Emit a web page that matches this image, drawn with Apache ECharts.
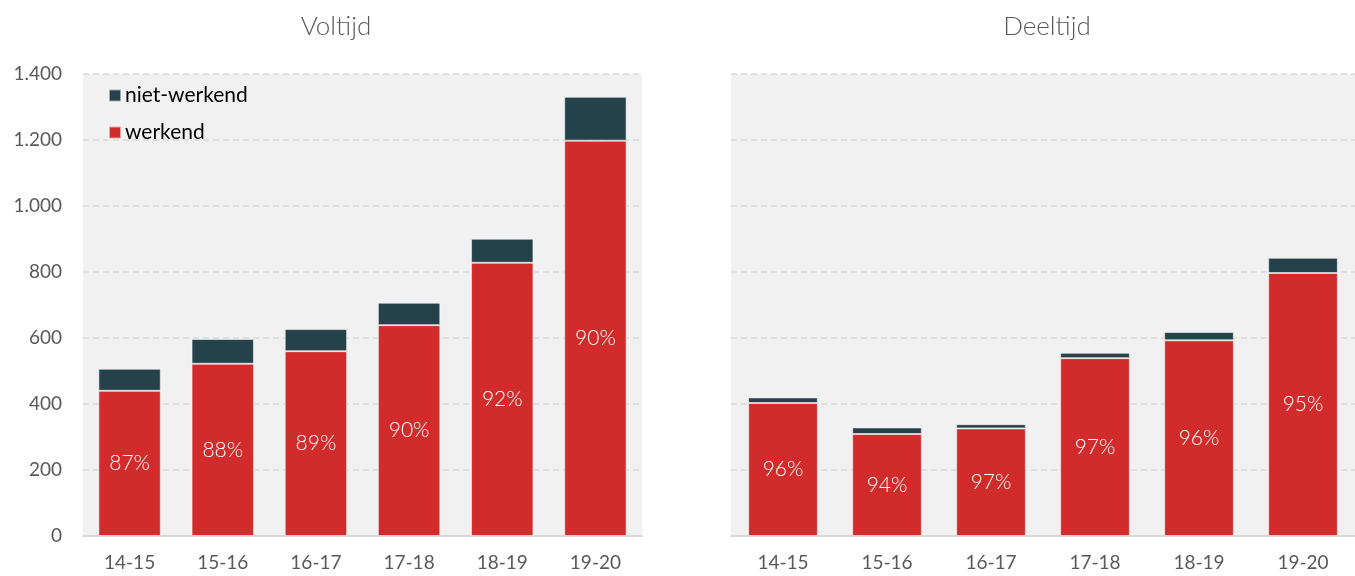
<!DOCTYPE html>
<html>
<head>
<meta charset="utf-8">
<script src="https://cdn.jsdelivr.net/npm/echarts@6/dist/echarts.min.js"></script>
<style>
html,body{margin:0;padding:0;background:#fff;}
#chart{width:1355px;height:576px;}
</style>
</head>
<body>
<div id="chart"></div>
<script>
const categories = ['14-15','15-16','16-17','17-18','18-19','19-20'];
const voltijdWerkend = [440, 522, 560, 639, 828, 1198];
const voltijdNietWerkend = [67, 75, 67, 68, 73, 133];
const voltijdPct = ['87%','88%','89%','90%','92%','90%'];
const deeltijdWerkend = [403, 309, 326, 539, 593, 797];
const deeltijdNietWerkend = [17, 20, 13, 16, 25, 46];
const deeltijdPct = ['96%','94%','97%','97%','96%','95%'];
const yTicks = {min: 0, max: 1400, interval: 200};
const titles = ['Voltijd', 'Deeltijd'];
const legendNames = ['niet-werkend', 'werkend'];

const FONT = 'Lato, "Open Sans", sans-serif';
const RED = '#d22b2b';
const DARK = '#25424a';
const GREY = '#595959';

function fmt(v){ return String(v).replace(/\B(?=(\d{3})+(?!\d))/g, '.'); }

const chart = echarts.init(document.getElementById('chart'), null, {renderer: 'canvas'});

function xAxis(gi){
  return {
    type: 'category', gridIndex: gi, data: categories,
    axisTick: {show: false},
    axisLine: {lineStyle: {color: '#d9d9d9', width: 2}},
    axisLabel: {color: GREY, fontFamily: FONT, fontSize: 19, fontWeight: 400, margin: 17}
  };
}
function yAxis(gi, showLabels){
  return {
    type: 'value', gridIndex: gi, min: yTicks.min, max: yTicks.max, interval: yTicks.interval,
    axisLine: {show: false}, axisTick: {show: false},
    axisLabel: {show: showLabels, color: GREY, fontFamily: FONT, fontSize: 19, fontWeight: 400, margin: 21, formatter: fmt},
    splitLine: {lineStyle: {color: '#d9d9d9', type: [6, 4], width: 1.5}}
  };
}
function bars(gi, werk, niet, pct){
  return [
    {
      name: legendNames[1], type: 'bar', stack: 's' + gi, xAxisIndex: gi, yAxisIndex: gi,
      data: werk, barCategoryGap: '33%',
      itemStyle: {color: RED, borderColor: 'rgba(255,255,255,0.55)', borderWidth: 1},
      label: {show: true, position: 'inside', color: '#fff', fontFamily: FONT, fontSize: 21, fontWeight: 300,
        formatter: p => pct[p.dataIndex]}
    },
    {
      name: legendNames[0], type: 'bar', stack: 's' + gi, xAxisIndex: gi, yAxisIndex: gi,
      data: niet, barCategoryGap: '33%',
      itemStyle: {color: DARK, borderColor: 'rgba(255,255,255,0.55)', borderWidth: 1}
    }
  ];
}

chart.setOption({
  animation: false,
  title: [
    {text: titles[0], left: 331, top: 9, textAlign: 'center',
     textStyle: {color: GREY, fontFamily: FONT, fontSize: 26, fontWeight: 300}},
    {text: titles[1], left: 1042, top: 9, textAlign: 'center',
     textStyle: {color: GREY, fontFamily: FONT, fontSize: 26, fontWeight: 300}}
  ],
  legend: {
    data: legendNames, orient: 'vertical', left: 103, top: 80,
    itemWidth: 12, itemHeight: 12, itemGap: 16, icon: 'rect',
    textStyle: {color: '#000', fontFamily: FONT, fontSize: 21, fontWeight: 400, padding: [0,0,0,-1]}
  },
  grid: [
    {left: 83, right: 713, top: 74, bottom: 40, show: true, backgroundColor: '#f1f1f1', borderWidth: 0},
    {left: 731, right: 0, top: 74, bottom: 40, show: true, backgroundColor: '#f1f1f1', borderWidth: 0}
  ],
  xAxis: [xAxis(0), xAxis(1)],
  yAxis: [yAxis(0, true), yAxis(1, false)],
  series: [
    ...bars(0, voltijdWerkend, voltijdNietWerkend, voltijdPct),
    ...bars(1, deeltijdWerkend, deeltijdNietWerkend, deeltijdPct)
  ]
});
</script>
</body>
</html>
